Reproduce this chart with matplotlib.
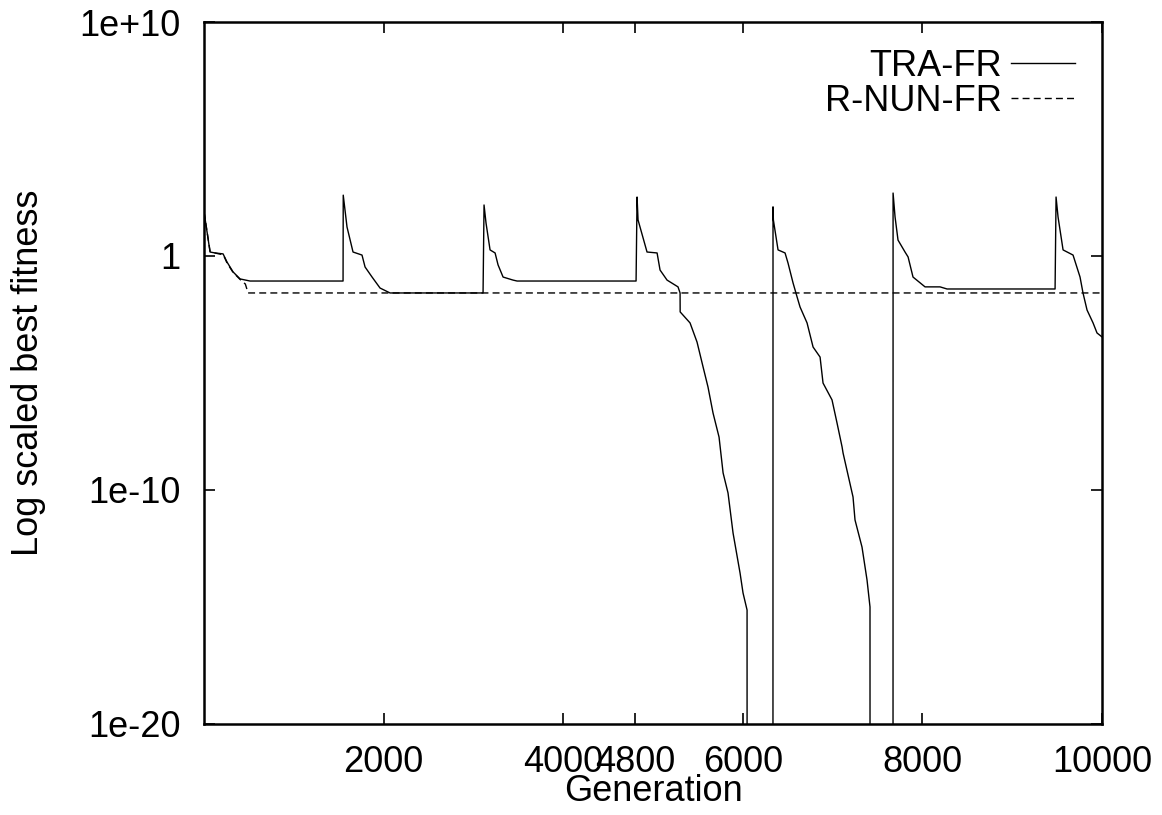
import numpy as np
import matplotlib.pyplot as plt

plt.rcParams['font.family'] = ['Liberation Sans', 'DejaVu Sans']

# TRA-FR, generation vs log10(best fitness); -40 = fitness reached 0
tra_gen = [0, 67, 122, 212, 256, 323, 401, 512, 1548,
           1550, 1592, 1659, 1759, 1793, 1871, 1960, 2071, 3107,
           3118, 3140, 3185, 3241, 3274, 3330, 3441, 3486, 4811,
           4822, 4833, 4933, 5045, 5078, 5156, 5278, 5301, 5302, 5412, 5490,
           5557, 5612, 5668, 5735, 5780, 5835, 5891, 5969, 6002, 6047, 6048,
           6335, 6336, 6340, 6392, 6470, 6503, 6559, 6604, 6637, 6715, 6782,
           6860, 6893, 6993, 7049, 7105, 7116, 7227, 7249, 7327, 7383, 7416, 7417,
           7672, 7673, 7695, 7728, 7806, 7840, 7895, 8029, 8196, 8274, 9477,
           9488, 9510, 9566, 9677, 9755, 9788, 9833, 9900, 9944, 10000]
tra_log = [1.88, 0.17, 0.13, 0.09, -0.26, -0.68, -0.98, -1.07, -1.07,
           2.6, 1.24, 0.17, 0.04, -0.47, -0.90, -1.37, -1.58, -1.58,
           2.18, 1.41, 0.26, 0.13, -0.38, -0.90, -1.03, -1.07, -1.07,
           2.52, 1.54, 0.17, 0.13, -0.60, -1.03, -1.32, -1.58, -2.39, -2.86, -3.68,
           -4.74, -5.60, -6.71, -7.74, -9.27, -10.13, -11.84, -13.55, -14.40, -15.13, -40,
           -40, 2.1, 1.54, 0.26, 0.13, -0.30, -1.15, -1.75, -2.18, -2.86, -3.89,
           -4.32, -5.43, -6.15, -7.14, -8.16, -8.42, -10.30, -11.28, -12.44, -13.85, -15.0, -40,
           -40, 2.69, 1.67, 0.68, 0.17, -0.04, -0.90, -1.32, -1.32, -1.41, -1.41,
           2.52, 1.67, 0.26, 0.04, -0.90, -1.58, -2.31, -2.86, -3.29, -3.46]

# R-NUN-FR
rnun_gen = [0, 67, 130, 215, 256, 323, 401, 460, 490, 10000]
rnun_log = [1.88, 0.2, 0.12, 0.05, -0.3, -0.7, -1.0, -1.2, -1.58, -1.58]

xticks = [2000, 4000, 4800, 6000, 8000, 10000]
yticks = [1e-20, 1e-10, 1, 1e10]
ylabels = ['1e-20', '1e-10', '1', '1e+10']

fig = plt.figure(figsize=(11.62, 8.15), dpi=100)
ax = fig.add_axes([0.1756, 0.1117, 0.7728, 0.8613])

ax.plot(tra_gen, 10.0 ** np.array(tra_log), color='black', lw=1.0, label='TRA-FR')
ax.plot(rnun_gen, 10.0 ** np.array(rnun_log), color='black', lw=1.0,
        ls=(0, (5, 3)), label='R-NUN-FR')

ax.set_yscale('log')
ax.set_xlim(0, 10000)
ax.set_ylim(1e-20, 1e10)
ax.set_xticks(xticks)
ax.set_xticklabels([str(t) for t in xticks])
ax.set_yticks(yticks)
ax.set_yticklabels(ylabels)
ax.minorticks_off()
ax.tick_params(direction='in', length=8, width=1.2, top=True, right=True,
               labelsize=26)
ax.tick_params(axis='x', pad=15)
ax.tick_params(axis='y', pad=17)
for s in ax.spines.values():
    s.set_linewidth(1.8)

ax.set_xlabel('Generation', fontsize=26, labelpad=-4)
ax.set_ylabel('Log scaled best fitness', fontsize=26, labelpad=24)

ax.legend(loc='upper right', frameon=False, markerfirst=False, fontsize=26,
          handlelength=1.77, handletextpad=0.25, labelspacing=0.0,
          borderaxespad=0.35)

fig.savefig('out.png', dpi=100)
